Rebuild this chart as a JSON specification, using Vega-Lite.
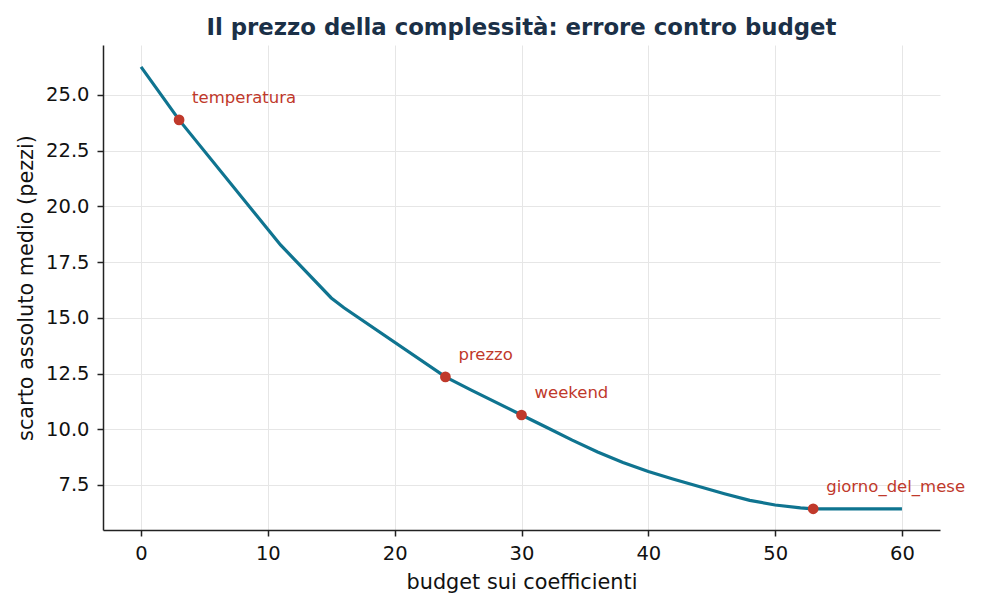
{
  "$schema": "https://vega.github.io/schema/vega-lite/v6.json",
  "autosize": {"type": "none"},
  "padding": {"left": 103, "top": 45, "right": 42, "bottom": 79},
  "width": 837,
  "height": 485,
  "background": "white",
  "config": {
    "font": "DejaVu Sans",
    "view": {"stroke": null},
    "axis": {
      "domainColor": "#222222",
      "domainWidth": 1.5,
      "tickColor": "#222222",
      "tickWidth": 1.5,
      "gridColor": "#e6e6e6",
      "gridWidth": 1,
      "labelFontSize": 19.5,
      "labelColor": "#111111",
      "titleFontSize": 20.8,
      "titleFontWeight": "normal",
      "titleColor": "#111111",
      "tickSize": 6
    }
  },
  "title": {
    "text": "Il prezzo della complessità: errore contro budget",
    "fontSize": 22.8,
    "fontWeight": "bold",
    "color": "#1b3047",
    "offset": 5
  },
  "datasets": {
    "curve": [
      {"budget": 0, "mae": 26.26},
      {"budget": 3, "mae": 23.88},
      {"budget": 11, "mae": 18.27},
      {"budget": 15, "mae": 15.89},
      {"budget": 16, "mae": 15.45},
      {"budget": 24, "mae": 12.35},
      {"budget": 26, "mae": 11.77},
      {"budget": 30, "mae": 10.64},
      {"budget": 32, "mae": 10.08},
      {"budget": 34, "mae": 9.51},
      {"budget": 36, "mae": 8.98},
      {"budget": 38, "mae": 8.51},
      {"budget": 40, "mae": 8.1},
      {"budget": 42, "mae": 7.76},
      {"budget": 44, "mae": 7.43},
      {"budget": 46, "mae": 7.11},
      {"budget": 48, "mae": 6.81},
      {"budget": 50, "mae": 6.6},
      {"budget": 52, "mae": 6.47},
      {"budget": 53, "mae": 6.43},
      {"budget": 60, "mae": 6.43}
    ],
    "entries": [
      {"budget": 3, "mae": 23.88, "variabile": "temperatura"},
      {"budget": 24, "mae": 12.35, "variabile": "prezzo"},
      {"budget": 30, "mae": 10.64, "variabile": "weekend"},
      {"budget": 53, "mae": 6.43, "variabile": "giorno_del_mese"}
    ]
  },
  "layer": [
    {
      "data": {"name": "curve"},
      "mark": {"type": "line", "color": "#0f7490", "strokeWidth": 3.2},
      "encoding": {
        "x": {
          "field": "budget",
          "type": "quantitative",
          "title": "budget sui coefficienti",
          "scale": {"domain": [-3, 63], "nice": false, "zero": false},
          "axis": {"values": [0, 10, 20, 30, 40, 50, 60], "labelPadding": 8, "titlePadding": 10}
        },
        "y": {
          "field": "mae",
          "type": "quantitative",
          "title": "scarto assoluto medio (pezzi)",
          "scale": {"domain": [5.48, 27.24], "nice": false, "zero": false},
          "axis": {"values": [7.5, 10, 12.5, 15, 17.5, 20, 22.5, 25], "format": ".1f", "labelPadding": 8, "titlePadding": 9}
        }
      }
    },
    {
      "data": {"name": "entries"},
      "mark": {"type": "circle", "color": "#c0392b", "opacity": 1, "size": 115},
      "encoding": {
        "x": {"field": "budget", "type": "quantitative"},
        "y": {"field": "mae", "type": "quantitative"}
      }
    },
    {
      "data": {"name": "entries"},
      "mark": {"type": "text", "color": "#c0392b", "fontSize": 16.5, "align": "left", "baseline": "middle", "dx": 13, "dy": -22},
      "encoding": {
        "x": {"field": "budget", "type": "quantitative"},
        "y": {"field": "mae", "type": "quantitative"},
        "text": {"field": "variabile"}
      }
    }
  ]
}
